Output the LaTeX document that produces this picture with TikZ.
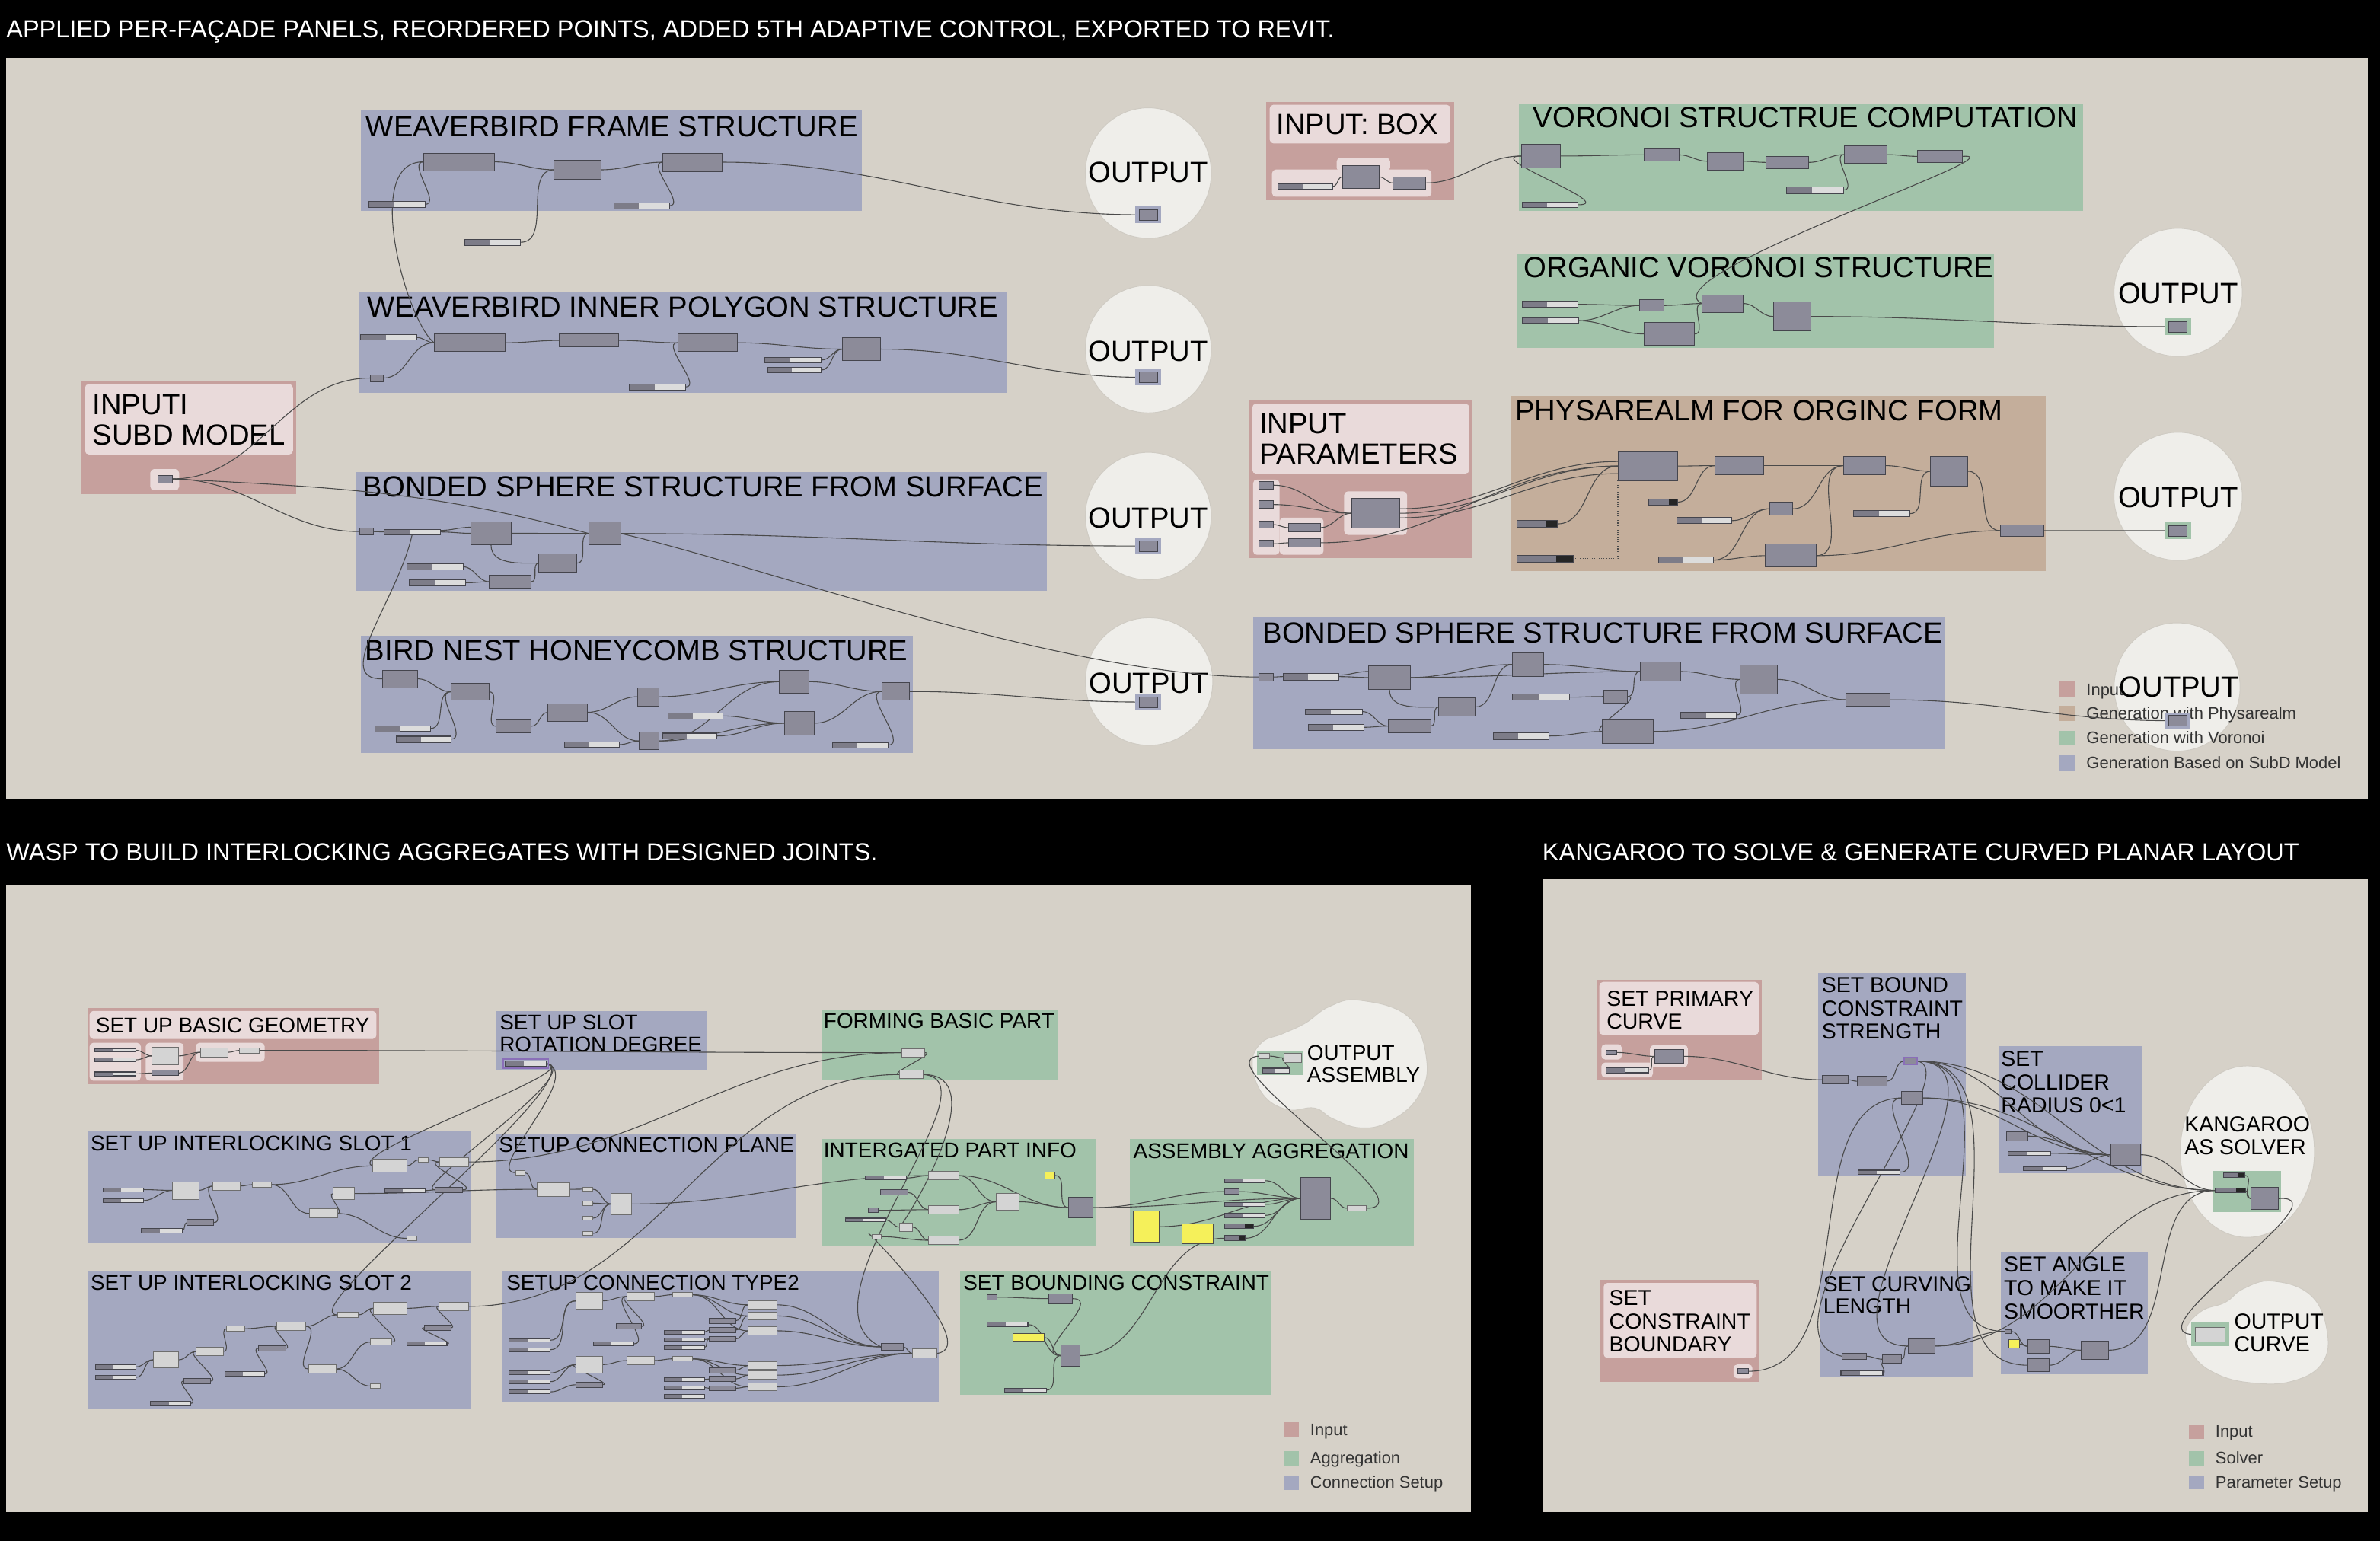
\documentclass[tikz,border=0pt]{standalone}
\usepackage{fontspec}
\setmainfont{Liberation Sans}
\usetikzlibrary{shapes.geometric}
\pgfdeclarelayer{bg}\pgfdeclarelayer{wl}\pgfsetlayers{bg,wl,main}
\definecolor{panelc}{HTML}{D6D1C8}
\definecolor{blueg}{HTML}{A4A8C0}
\definecolor{greeng}{HTML}{A2C3AA}
\definecolor{pinkg}{HTML}{C6A09D}
\definecolor{pinkl}{HTML}{E9DADA}
\definecolor{browng}{HTML}{C4AE9B}
\definecolor{compf}{HTML}{8C8B99}
\definecolor{compb}{HTML}{45454D}
\definecolor{sldd}{HTML}{7D7C88}
\definecolor{sldl}{HTML}{DCDCDC}
\definecolor{lcompf}{HTML}{D4D4D4}
\definecolor{lcompb}{HTML}{6E6E6E}
\definecolor{yel}{HTML}{F5F05A}
\definecolor{outf}{HTML}{EFEEEA}
\definecolor{outb}{HTML}{CFCBC3}
\definecolor{wirec}{HTML}{4A4A4A}
\definecolor{purp}{HTML}{8A6FB8}
\newcommand\myfs[1]{\fontsize{#1}{#1}\selectfont}
\tikzset{
 comp/.style={rectangle,draw=compb,fill=compf,line width=0.45pt,inner sep=0pt,outer sep=0pt},
 lcomp/.style={comp,draw=lcompb,fill=lcompf},
 ycomp/.style={comp,draw=black!70,fill=yel},
 pcomp/.style={comp,draw=purp,line width=0.8pt},
 sldbox/.style={comp,fill=sldl},
 grpst/.style={rectangle,inner sep=0pt,outer sep=0pt,draw=none},
 outel/.style={ellipse,fill=outf,draw=outb,line width=0.5pt,inner sep=0pt},
 wire/.style={draw=wirec,line width=0.55pt},
}
\newcommand\cmp[6][comp]{\node[#1,minimum width={(#5-#3)*1pt},minimum height={(#6-#4)*1pt}] (#2) at ({(#3+#5)/2},{(#4+#6)/2}) {};}
\newcommand\sld[5]{\node[sldbox,minimum width={(#4-#2)*1pt},minimum height={(#5-#3)*1pt}] (#1) at ({(#2+#4)/2},{(#3+#5)/2}) {};
 \fill[sldd] (#2,#3) rectangle ({#2+0.45*(#4-#2)},#5);
 \draw[draw=compb,line width=0.4pt] (#2,#3) rectangle (#4,#5);}
\newcommand\sldk[5]{\node[comp,fill=sldd,minimum width={(#4-#2)*1pt},minimum height={(#5-#3)*1pt}] (#1) at ({(#2+#4)/2},{(#3+#5)/2}) {};
 \fill[black!85] ({#4-0.3*(#4-#2)},#3) rectangle (#4,#5);
 \draw[draw=compb,line width=0.4pt] (#2,#3) rectangle (#4,#5);}
\newcommand\grp[6]{\node[grpst,fill=#6,minimum width={(#4-#2)*1pt},minimum height={(#5-#3)*1pt}] (#1) at ({(#2+#4)/2},{(#3+#5)/2}) {};}
\newcommand\lite[5][pinkl]{\fill[#1,rounded corners=2.5pt] (#2,#3) rectangle (#4,#5);}
\newcommand\ttl[5][19.2]{\node[anchor=base west,inner sep=0pt,font=\myfs{#1}] (#2) at (#3,#4) {#5};}
\newcommand\obox[4]{\node[rectangle,fill=#4,minimum width=17pt,minimum height=11pt,inner sep=0pt] (#1h) at (#2,#3) {};\node[comp,minimum width=12pt,minimum height=7pt] (#1) at (#2,#3) {};}
\newcommand\leg[6]{\fill[#5] (#2,#3) rectangle ({#2+10},#4);
 \node[anchor=base west,inner sep=0pt,font=\myfs{11},text=black!80] (#1) at ({#2+17.4},{#4-1}) {#6};}
\newcommand\wrr[3][]{\draw[wire,#1] (#2.east) to[out=0,in=180] (#3.west);}
\begin{document}
\begin{tikzpicture}[x=1pt,y=-1pt]
\useasboundingbox (0,0) rectangle (1568,1015);
\begin{pgfonlayer}{bg}
\fill[black] (0,0) rectangle (1568,1015);
\node[anchor=base west,inner sep=0pt,text=white,font=\myfs{16.3}] (h1) at (4,25) {APPLIED PER-FAÇADE PANELS, REORDERED POINTS, ADDED 5TH ADAPTIVE CONTROL, EXPORTED TO REVIT.};
\node[anchor=base west,inner sep=0pt,text=white,font=\myfs{16.3}] (h2) at (4,567) {WASP TO BUILD INTERLOCKING AGGREGATES WITH DESIGNED JOINTS.};
\node[anchor=base west,inner sep=0pt,text=white,font=\myfs{16.3}] (h3) at (1016,567) {KANGAROO TO SOLVE \& GENERATE CURVED PLANAR LAYOUT};
\fill[panelc] (4,38) rectangle (1560,526);
\fill[panelc] (4,583) rectangle (969,996);
\fill[panelc] (1016,579) rectangle (1560,996);
% ---------- top panel groups
\grp{gA}{238}{72}{568}{139}{blueg}
\grp{gB}{236}{192}{663}{259}{blueg}
\grp{gC}{234}{311}{689.6}{389}{blueg}
\grp{gD}{238}{419}{601.4}{496}{blueg}
\grp{gIn}{53.4}{250.6}{195}{325.6}{pinkg}
\lite{56}{253}{193}{299.4}
\lite{99}{309}{118}{323}
\grp{gIB}{834}{67}{958}{132}{pinkg}
\lite{836.5}{69}{955.5}{94.5}
\lite{838}{111.7}{943}{129.6}
\lite{880.6}{103.9}{915.8}{113}
\grp{gV}{1000.6}{68}{1372.6}{138.8}{greeng}
\grp{gO}{999.6}{167}{1313.8}{229}{greeng}
\grp{gIP}{822.4}{264}{969.9}{367.6}{pinkg}
\lite{825}{266}{968}{312}
\lite{825.5}{316}{843}{365.5}
\lite{843}{341}{872}{365.5}
\lite{885.5}{323.7}{927}{352.4}
\grp{gP}{995.8}{260.6}{1348}{376}{browng}
\grp{gC2}{825.8}{406.7}{1281.6}{493.5}{blueg}
\node[outel,minimum width=83pt,minimum height=86pt] (O1) at (756.5,114) {};
\node[outel,minimum width=83pt,minimum height=84pt] (O2) at (756.5,230) {};
\node[outel,minimum width=83pt,minimum height=84pt] (O3) at (756.5,340) {};
\node[outel,minimum width=84pt,minimum height=84pt] (O4) at (757,449) {};
\node[outel,minimum width=84.6pt,minimum height=84.4pt] (O5) at (1435,192.6) {};
\node[outel,minimum width=84.6pt,minimum height=84.4pt] (O6) at (1435,327) {};
\node[outel,minimum width=83pt,minimum height=84.6pt] (O7) at (1434.3,452.6) {};
\ttl{tA}{241}{90}{WEAVERBIRD FRAME STRUCTURE}
\ttl{tB}{242}{209}{WEAVERBIRD INNER POLYGON STRUCTURE}
\ttl{tC}{239}{327.5}{BONDED SPHERE STRUCTURE FROM SURFACE}
\ttl{tD}{240.5}{435}{BIRD NEST HONEYCOMB STRUCTURE}
\ttl{tIn1}{60.8}{273}{INPUTI}
\ttl{tIn2}{60.8}{293}{SUBD MODEL}
\ttl{tIB}{840.7}{88.7}{INPUT: BOX}
\ttl{tV}{1010}{84}{VORONOI STRUCTRUE COMPUTATION}
\ttl{tO}{1003.8}{183}{ORGANIC VORONOI STRUCTURE}
\ttl{tP}{998.2}{277}{PHYSAREALM FOR ORGINC FORM}
\ttl{tIP1}{829.5}{285.7}{INPUT}
\ttl{tIP2}{829.5}{305.8}{PARAMETERS}
\ttl{tC2}{831.7}{423.5}{BONDED SPHERE STRUCTURE FROM SURFACE}
\leg{lg1}{1357}{449}{459}{pinkg}{Input}
\leg{lg2}{1357}{465}{475}{browng}{Generation with Physarealm}
\leg{lg3}{1357}{481.4}{491}{greeng}{Generation with Voronoi}
\leg{lg4}{1357}{497.6}{507.4}{blueg}{Generation Based on SubD Model}
\node[anchor=base,inner sep=0pt,font=\myfs{19.2}] (O1t) at (756.5,120) {OUTPUT};
\node[anchor=base,inner sep=0pt,font=\myfs{19.2}] (O2t) at (756.5,238.2) {OUTPUT};
\node[anchor=base,inner sep=0pt,font=\myfs{19.2}] (O3t) at (756.5,348) {OUTPUT};
\node[anchor=base,inner sep=0pt,font=\myfs{19.2}] (O4t) at (757,456.5) {OUTPUT};
\node[anchor=base,inner sep=0pt,font=\myfs{19.2}] (O5t) at (1435,200.1) {OUTPUT};
\node[anchor=base,inner sep=0pt,font=\myfs{19.2}] (O6t) at (1435,334.5) {OUTPUT};
\node[anchor=base,inner sep=0pt,font=\myfs{19.2}] (O7t) at (1435.7,459) {OUTPUT};
% ---------- bottom left groups
\grp{gBG}{57.6}{664}{249.6}{714.4}{pinkg}
\lite{59}{666}{248}{684.5}
\lite{59}{687}{92.8}{712}
\lite{96}{687}{121}{712}
\lite{129}{687}{174.4}{699.5}
\grp{gRot}{327}{665.9}{465.6}{704.8}{blueg}
\grp{gS1}{57.6}{745.5}{310.4}{818.8}{blueg}
\grp{gCP}{326.4}{747.4}{524}{815.6}{blueg}
\grp{gS2}{57.6}{837.2}{310.4}{927.8}{blueg}
\grp{gT2}{331.2}{837.2}{618.5}{923.4}{blueg}
\grp{gF}{541}{665}{696.8}{712}{greeng}
\grp{gI}{541}{750.3}{721.8}{821.3}{greeng}
\grp{gAA}{744.5}{750.3}{931.4}{820.7}{greeng}
\grp{gBC}{632.7}{837.3}{837.8}{918.8}{greeng}
\draw[fill=outf,draw=outb,line width=0.5pt] plot[smooth cycle,tension=0.7] coordinates {(896,659) (928,670) (940,699) (934,723) (915,739) (896,743) (878,737) (866,730) (848,731) (832,721) (825,701) (831,687) (845,681) (860,674) (876,663)};
\fill[greeng] (828,692.8) rectangle (858.5,708.1);
\ttl[14]{tBG}{63}{680.3}{SET UP BASIC GEOMETRY}
\ttl[14]{tR1}{329}{678.4}{SET UP SLOT}
\ttl[14]{tR2}{329}{692.8}{ROTATION DEGREE}
\ttl[14]{tS1}{59.5}{758}{SET UP INTERLOCKING SLOT 1}
\ttl[14]{tCP}{328.5}{759}{SETUP CONNECTION PLANE}
\ttl[14]{tS2}{59.5}{850.1}{SET UP INTERLOCKING SLOT 2}
\ttl[14]{tT2}{333.5}{850}{SETUP CONNECTION TYPE2}
\ttl[14]{tF}{542.5}{677.4}{FORMING BASIC PART}
\ttl[14]{tI}{542.5}{762.8}{INTERGATED PART INFO}
\ttl[14]{tAA}{746.5}{763}{ASSEMBLY AGGREGATION}
\ttl[14]{tBC}{634.5}{850.1}{SET BOUNDING CONSTRAINT}
\ttl[14]{tOA1}{861}{698.5}{OUTPUT}
\ttl[14]{tOA2}{861}{712.9}{ASSEMBLY}
\leg{lb1}{845.6}{937}{946.5}{pinkg}{Input}
\leg{lb2}{845.6}{955.9}{965.4}{greeng}{Aggregation}
\leg{lb3}{845.6}{972.1}{981.6}{blueg}{Connection Setup}
% ---------- bottom right groups
\grp{gPC}{1051.9}{645.6}{1160.5}{711.7}{pinkg}
\lite{1053.7}{646.9}{1158.7}{681.8}
\lite{1055}{688}{1068.5}{698}
\lite{1055}{700}{1089}{709.8}
\lite{1087}{688.5}{1112}{703}
\grp{gCB}{1054.4}{843.2}{1159}{910.6}{pinkg}
\lite{1056.5}{845.2}{1157.3}{894.6}
\lite{1142.1}{898.9}{1154.5}{908.1}
\grp{gBS}{1198}{641.1}{1294.9}{774.8}{blueg}
\grp{gCR}{1316.5}{689.3}{1411.6}{772.8}{blueg}
\grp{gCL}{1199.4}{837.7}{1299.5}{907.6}{blueg}
\grp{gAS}{1318.2}{825.3}{1415.2}{905.6}{blueg}
\node[outel,minimum width=88.4pt,minimum height=113pt] (KS) at (1480.6,758.7) {};
\fill[greeng] (1457.6,771.6) rectangle (1503,798.3);
\draw[fill=outf,draw=outb,line width=0.5pt] plot[smooth cycle,tension=0.7] coordinates {(1497,844) (1522,853) (1533,876) (1530,898) (1510,910) (1483,911) (1460,905) (1445,893) (1440,877) (1450,864) (1466,858) (1478,849)};
\ttl[14.3]{tPC1}{1058.3}{663.1}{SET PRIMARY}
\ttl[14.3]{tPC2}{1058.3}{678}{CURVE}
\ttl[14.3]{tCB1}{1060}{860.2}{SET}
\ttl[14.3]{tCB2}{1060}{875.7}{CONSTRAINT}
\ttl[14.3]{tCB3}{1060}{890.6}{BOUNDARY}
\ttl[14.3]{tBS1}{1200}{653.8}{SET BOUND}
\ttl[14.3]{tBS2}{1200}{669.3}{CONSTRAINT}
\ttl[14.3]{tBS3}{1200}{684.3}{STRENGTH}
\ttl[14.3]{tCR1}{1318.2}{702.5}{SET}
\ttl[14.3]{tCR2}{1318.2}{718}{COLLIDER}
\ttl[14.3]{tCR3}{1318.2}{733}{RADIUS 0<1}
\ttl[14.3]{tCL1}{1201}{851}{SET CURVING}
\ttl[14.3]{tCL2}{1201}{865.7}{LENGTH}
\ttl[14.3]{tAS1}{1320}{837.7}{SET ANGLE}
\ttl[14.3]{tAS2}{1320}{853.4}{TO MAKE IT}
\ttl[14.3]{tAS3}{1320}{868.9}{SMOORTHER}
\ttl[14.3]{tK1}{1439}{745.4}{KANGAROO}
\ttl[14.3]{tK2}{1439}{760.9}{AS SOLVER}
\ttl[14.3]{tOC1}{1471.8}{875.7}{OUTPUT}
\ttl[14.3]{tOC2}{1471.8}{890.6}{CURVE}
\leg{lr1}{1442}{938.8}{948}{pinkg}{Input}
\leg{lr2}{1442}{956.2}{965.5}{greeng}{Solver}
\leg{lr3}{1442}{972}{981.2}{blueg}{Parameter Setup}
\end{pgfonlayer}
% ================= components: top
\cmp{A1}{279}{100.8}{326}{112.5}
\cmp{A2}{365}{105.8}{396}{117.9}
\cmp{A3}{436.5}{100.8}{475.5}{112.9}
\sld{sA1}{243}{132.6}{280}{136.7}
\sld{sA2}{404.5}{133.5}{441}{137.6}
\sld{sA3}{306}{157.7}{343}{161.5}
\sld{sB1}{237.6}{220.6}{274.4}{224}
\cmp{B1}{286}{220}{333}{231.6}
\cmp{B2}{368.4}{220}{407.7}{228.5}
\cmp{B3}{446.4}{220}{485.8}{231.6}
\sld{sB2}{414.5}{253}{451.6}{256.9}
\cmp{Bs}{244}{246.8}{252.6}{251.3}
\sld{sB3}{504}{235.5}{541}{239}
\sld{sB4}{506}{242}{541}{245.5}
\cmp{B4}{555}{222.5}{580}{237.5}
\cmp{In}{104}{313}{113.5}{318}
\cmp{Cs}{237}{348}{246}{352.4}
\sld{sC1}{253}{348.6}{290}{352.3}
\cmp{C1}{310}{343.7}{337}{359}
\cmp{C2}{388}{343.9}{409}{359.1}
\cmp{C3}{355}{365}{380}{377}
\cmp{C4}{322.4}{379}{350}{387.5}
\sld{sC2}{268}{371.5}{305}{375.3}
\sld{sC3}{269.6}{382}{306.7}{385.9}
\cmp{D1}{252}{441.4}{275}{453}
\cmp{D2}{297}{450}{322}{461.4}
\cmp{D3}{327}{474.3}{350}{482.7}
\cmp{D4}{361}{463.5}{387}{475}
\cmp{D5}{420}{453}{434}{465}
\cmp{D6}{421}{482.3}{434}{494}
\cmp{D7}{513.6}{441.4}{533}{456.8}
\cmp{D8}{517}{468.6}{536.5}{484.3}
\cmp{D9}{581}{449.7}{599}{461.4}
\sld{sD1}{247}{478}{283.5}{482}
\sld{sD2}{261}{485}{297}{489}
\sld{sD3}{372}{488.7}{408}{492.4}
\sld{sD4}{440}{469.8}{476}{473.5}
\sld{sD5}{436.6}{483}{472}{486.8}
\sld{sD6}{548.6}{489}{585}{492.7}
\obox{ob1}{756.5}{141.5}{blueg}
\obox{ob2}{756.5}{248.5}{blueg}
\obox{ob3}{756.5}{359.7}{blueg}
\obox{ob4}{756.5}{462.5}{blueg}
\obox{ob5}{1435}{215.2}{greeng}
\obox{ob6}{1435}{349.6}{greeng}
\obox{ob7}{1434.8}{474.8}{blueg}
\sld{sIB}{842}{120.9}{878}{124.7}
\cmp{IB1}{884.5}{109}{908.5}{124}
\cmp{IB2}{917.6}{116.4}{939}{124.7}
\cmp{V1}{1002.2}{94.9}{1028}{110.7}
\cmp{V2}{1083}{98}{1106}{106}
\cmp{V3}{1125}{100.5}{1148.4}{112}
\cmp{V4}{1163.5}{103}{1191.6}{111}
\cmp{V6}{1215}{96}{1243}{107.7}
\cmp{V7}{1263}{99}{1293}{107}
\sld{sV1}{1002.9}{133}{1039.7}{136.8}
\sld{sV2}{1177}{122.9}{1214.8}{127.4}
\sld{sO1}{1002.9}{198.6}{1039.7}{202.4}
\sld{sO2}{1003}{209.5}{1040}{213.1}
\cmp{Ov1}{1080.3}{197.5}{1096.3}{205}
\cmp{Ov2}{1083}{212.5}{1116.5}{227.5}
\cmp{Ov3}{1121.2}{194.1}{1148.5}{205.8}
\cmp{Ov4}{1168.2}{199}{1193}{218}
\cmp{Q1}{829.5}{317.3}{839}{322}
\cmp{Q2}{829.5}{330}{839}{334.8}
\cmp{Q3}{829.5}{343.4}{839}{347.9}
\cmp{Q4}{829.5}{356}{839}{360.6}
\cmp{QR1}{848.7}{345}{869.8}{350.2}
\cmp{QR2}{848.7}{355}{869.8}{360.2}
\cmp{QB}{890.4}{328.4}{922.3}{347.9}
\cmp{P1}{1065.9}{297.5}{1105.3}{316.6}
\cmp{P2}{1129.9}{300.9}{1162.1}{312.6}
\cmp{P3}{1165.8}{331}{1181}{339.4}
\cmp{P4}{1163}{358.6}{1196.4}{373.6}
\cmp{P5}{1214.8}{300.9}{1242}{312.6}
\cmp{P6}{1271.9}{300.9}{1296.2}{320}
\cmp{P7}{1317.8}{345.7}{1346.4}{353.5}
\sldk{sP1}{1086}{328.9}{1105.2}{332.7}
\sldk{sP2}{999.6}{342.9}{1026}{347.4}
\sld{sP3}{1104.6}{341}{1141}{345}
\sldk{sP4}{999.6}{365.8}{1036.4}{370.3}
\sld{sP5}{1092.5}{367}{1128.7}{371}
\sld{sP6}{1220.9}{336.3}{1258.4}{340.5}
\cmp{E0}{829.2}{443.5}{839}{448.5}
\sld{sE0}{845.3}{443.5}{882}{448}
\cmp{E1}{901.5}{438.5}{929.3}{454.2}
\cmp{E2}{996.6}{430}{1017.1}{445.5}
\cmp{E3}{947.8}{459.7}{971.7}{471.9}
\cmp{E4}{914.6}{474}{942.5}{482.7}
\sld{sE1}{860}{467}{897.6}{470.6}
\sld{sE2}{862}{477.3}{898.5}{481}
\sld{sE3}{996.6}{457.2}{1034.2}{461.4}
\cmp{E5}{1056.6}{454.7}{1072.3}{463}
\cmp{E6}{1080.6}{436.3}{1107.4}{448.5}
\cmp{E7}{1146.4}{438}{1170.8}{457.2}
\sld{sE4}{984}{482.8}{1020.5}{487}
\cmp{E8}{1055.7}{474}{1089.3}{489.8}
\sld{sE5}{1107.4}{469}{1144}{473.1}
\cmp{E9}{1216.2}{456.7}{1245}{465.3}
% ================= components: bottom left
\sld{g1}{62.4}{690.8}{89.6}{693.1}
\sld{g2}{62.4}{697}{89.6}{699.5}
\sld{g3}{62.4}{706.2}{89.6}{708.7}
\cmp[lcomp]{Lg1}{100}{689.9}{117.4}{701.4}
\cmp{Dg1}{100}{705.2}{117.4}{708.7}
\cmp[lcomp]{Lg2}{132}{690.3}{150.4}{696.2}
\cmp[lcomp]{Lg3}{157.8}{690.3}{170.6}{693.7}
\draw[purp,line width=0.8pt] (331.5,697.7) rectangle (361.3,703.7);
\sld{sR}{332.8}{699}{360}{702.4}
\sld{s1a}{67.8}{782.5}{94.4}{785}
\sld{s1b}{67.8}{789.7}{94.4}{792.2}
\cmp[lcomp]{S1L1}{113.6}{778.5}{131.2}{790}
\cmp[lcomp]{S1L2}{140}{778.5}{158}{784.3}
\cmp[lcomp]{S1L3}{166.4}{778.5}{178.6}{782.4}
\cmp{S1D1}{123.2}{803.5}{140.8}{807.3}
\sld{s1c}{93}{809.2}{120}{812.1}
\cmp[lcomp]{S1L4}{245.4}{763.8}{268.2}{772.4}
\cmp[lcomp]{S1L5}{275.8}{762.4}{282.2}{765.7}
\cmp[lcomp]{S1L6}{289.6}{762.4}{308.8}{768.6}
\cmp[lcomp]{S1L7}{219.5}{782.4}{233.6}{790.2}
\sld{s1d}{253.4}{783}{280.3}{785.8}
\cmp{S1D2}{286.7}{782}{304.6}{785.8}
\cmp[lcomp]{S1L8}{203.8}{796.4}{222.4}{802.5}
\cmp[lcomp]{S1L9}{268.2}{814.2}{274.6}{817.5}
\cmp[lcomp]{CP0}{339.8}{771}{345.6}{774.3}
\cmp[lcomp]{CP1}{353.6}{779}{375.4}{788.1}
\cmp[lcomp]{CPa}{384}{782}{390.4}{784.9}
\cmp[lcomp]{CPb}{384}{791.2}{390.4}{794.1}
\cmp[lcomp]{CPc}{384}{801.2}{390.4}{804}
\cmp[lcomp]{CPd}{384}{811.2}{390.4}{814}
\cmp[lcomp]{CP2}{402.6}{786.2}{416}{800.2}
\sld{s2a}{63}{899}{89.6}{902}
\sld{s2b}{63}{906.2}{89.6}{908.7}
\cmp[lcomp]{S2L1}{100.8}{890.4}{117.8}{901.3}
\cmp[lcomp]{S2L2}{129}{887.5}{147.2}{893.3}
\cmp{S2D1}{121}{908.3}{138.6}{911.5}
\sld{s2c}{99.2}{923}{125.8}{926}
\cmp[lcomp]{S2L3}{149.4}{873.7}{161}{877}
\cmp[lcomp]{S2L4}{182.4}{871.2}{201.6}{876.4}
\cmp{S2D2}{170.2}{886.6}{188.2}{890}
\sld{s2d}{148.2}{903.8}{174.4}{906.7}
\cmp[lcomp]{S2L5}{222.4}{864.5}{236.2}{868}
\cmp[lcomp]{S2L6}{245.8}{857.8}{268.2}{866}
\cmp[lcomp]{S2L7}{289}{857.8}{308.8}{863.5}
\cmp{S2D3}{279.4}{873.1}{297}{876.4}
\sld{s2e}{268.2}{884.1}{294.4}{886.6}
\cmp[lcomp]{S2L8}{244.2}{882.2}{258.2}{886}
\cmp[lcomp]{S2L9}{203.2}{899}{221.4}{904.8}
\cmp[lcomp]{S2L10}{244.2}{911.5}{250.6}{914.8}
\cmp[lcomp]{T2a}{379.2}{851.5}{396.8}{862.6}
\cmp[lcomp]{T2b}{412.8}{851.5}{431}{856.8}
\cmp[lcomp]{T2c}{443.2}{851.5}{456}{854.5}
\sld{t2s1}{335.4}{881.8}{362.6}{884.1}
\sld{t2s2}{335.4}{888}{362.6}{890.4}
\sld{t2s3}{391}{884.1}{417.6}{886.6}
\cmp{T2d1}{405.8}{872.2}{422.4}{875.6}
\sld{t2s4}{437.8}{876.4}{464}{878.9}
\sld{t2s5}{437.8}{881.4}{464}{883.7}
\sld{t2s6}{437.8}{886.6}{464}{889.1}
\cmp{T2d2}{467.2}{868.3}{484.8}{871.8}
\cmp{T2d3}{467.2}{874.5}{484.8}{878}
\cmp{T2d4}{467.2}{880.4}{484.8}{883.7}
\cmp[lcomp]{T2e1}{492.8}{857}{512}{862.3}
\cmp[lcomp]{T2e2}{492.8}{864.5}{512}{869.4}
\cmp[lcomp]{T2e3}{492.8}{874}{512}{879.5}
\cmp[lcomp]{T2f}{379.2}{893.7}{396.8}{904.4}
\cmp[lcomp]{T2g}{412.8}{893.7}{431}{899}
\cmp[lcomp]{T2h}{443.2}{893.7}{456}{896.7}
\sld{t2s7}{335.4}{903.3}{362.6}{905.8}
\sld{t2s8}{335.4}{909}{362.6}{911.5}
\sld{t2s9}{335.4}{915.8}{362.6}{918.2}
\cmp{T2d5}{379.2}{910.6}{396.8}{914}
\sld{t2s10}{437.8}{907.7}{464}{910}
\sld{t2s11}{437.8}{912.9}{464}{915.4}
\sld{t2s12}{437.8}{918.6}{464}{921.1}
\cmp{T2d6}{467.2}{901}{484.8}{904.4}
\cmp{T2d7}{467.2}{906.7}{484.8}{910.2}
\cmp{T2d8}{467.2}{912.9}{484.8}{916.3}
\cmp[lcomp]{T2e4}{492.8}{897}{512}{902.3}
\cmp[lcomp]{T2e5}{492.8}{903.3}{512}{908.6}
\cmp[lcomp]{T2e6}{492.8}{911}{512}{916.3}
\cmp{T2D}{580.5}{885.2}{595}{889.4}
\cmp[lcomp]{T2L}{601.1}{888.5}{617}{894.8}
\cmp[lcomp]{F1}{594.2}{690.8}{609.3}{696.2}
\cmp[lcomp]{F2}{592.6}{705.2}{608.4}{710.6}
\sld{Is1}{569.9}{774.7}{597.2}{777.4}
\cmp{Id1}{579.9}{783.9}{598.1}{787.4}
\cmp[lcomp]{IL1}{611.8}{771.8}{631.5}{777.2}
\cmp{Id2}{572}{795.8}{578.4}{798.9}
\sld{Is2}{556.8}{802.5}{583.5}{805}
\cmp[lcomp]{IL2}{611.8}{794.1}{631.5}{799.8}
\cmp[lcomp]{ILs1}{592.6}{805.6}{601.1}{811.3}
\cmp[lcomp]{ILs2}{574.4}{813.3}{580.5}{816.1}
\cmp[lcomp]{IL3}{611.8}{814.2}{631.5}{820}
\cmp[lcomp]{IL4}{656.4}{786.2}{671.6}{797.3}
\cmp{ID}{704.1}{788.7}{720.2}{802.5}
\cmp[ycomp]{Iy}{688.3}{772}{695}{776.8}
\cmp[ycomp]{Ay1}{746.7}{797.9}{763.7}{818.4}
\cmp[ycomp]{Ay2}{778.6}{806.4}{799.2}{819.4}
\sld{As1}{806.8}{776.6}{833.5}{779.1}
\cmp{Ad}{806.8}{783.3}{816.5}{786.8}
\sld{As2}{806.8}{792.2}{833.5}{794.8}
\sld{As3}{806.8}{799.3}{833.5}{802.1}
\sldk{Ak1}{806.8}{806.4}{826}{809.4}
\sldk{Ak2}{806.8}{814}{820.5}{817.5}
\cmp{AD}{857}{775.8}{876.7}{803.1}
\cmp[lcomp]{AL}{887.3}{794.1}{900.1}{797.9}
\cmp{Bsm}{650.4}{853}{657}{856.2}
\cmp{BD1}{690.8}{852.4}{706.6}{858.7}
\sld{Bs1}{650.4}{871.2}{677.1}{874.1}
\cmp[ycomp]{By}{667.1}{878.5}{687.7}{883.7}
\cmp{BD2}{699}{886.2}{711.7}{900}
\sld{Bs2}{661.9}{914.4}{689.3}{917.3}
\cmp[lcomp]{OAs}{829.6}{694}{836.6}{697.5}
\cmp[lcomp]{OAL}{845.7}{694}{857.6}{699.9}
\sld{OAsl}{832}{703.7}{849.3}{707.1}
% ================= components: bottom right
\cmp{PCs}{1058.3}{691.8}{1065.3}{695}
\cmp{PCD}{1090}{691.3}{1109.2}{700.5}
\sld{PCsl}{1058.3}{703.5}{1086.2}{706.7}
\cmp{CBs}{1145}{901.8}{1152}{905.1}
\cmp{BS1}{1200.5}{708.5}{1217.4}{714.2}
\cmp{BS2}{1223.5}{709.2}{1243}{715.5}
\cmp[pcomp]{BSp}{1254.6}{696.8}{1263}{701.3}
\cmp{BS3}{1252.5}{719.2}{1266.6}{727.5}
\sld{BSsl}{1224.2}{770.9}{1251.8}{773.6}
\cmp{CR1}{1321.8}{745.4}{1335.9}{751.6}
\sld{CRs1}{1322.8}{758.6}{1350.8}{761.1}
\sld{CRs2}{1333}{768.6}{1361.4}{771.1}
\cmp{CRD}{1390.8}{753.6}{1410.2}{767.9}
\cmp{CL1}{1213.5}{891.4}{1229.5}{895.6}
\cmp{CL2}{1240}{892.6}{1252.5}{898.3}
\cmp{CL3}{1257}{882.1}{1274.7}{891.4}
\sld{CLsl}{1212.8}{903.1}{1240.4}{906.3}
\cmp{ASs}{1320.7}{875.9}{1325}{878.4}
\cmp[ycomp]{ASy}{1323.6}{882.6}{1330.3}{888.1}
\cmp{AS1}{1335.9}{882.6}{1350.1}{891.4}
\cmp{AS2}{1335.9}{895.1}{1350.1}{903.8}
\cmp{AS3}{1371.3}{883.4}{1389}{895.6}
\sldk{Ks1}{1465}{772.8}{1479}{775.8}
\sldk{Ks2}{1459.4}{782.8}{1479.2}{785.8}
\cmp{KD}{1482.7}{782.3}{1501}{797}
\fill[greeng] (1443.5,871.5) rectangle (1468.6,886.8);
\cmp[lcomp]{OCL}{1446.3}{874.4}{1465.8}{883.9}
% ================= wires
\begin{pgfonlayer}{wl}
\wrr{sA1}{A1}
\draw[wire] (A1.west) .. controls (238,106) and (268,212) .. (B1.west);
\wrr{A1}{A2}\wrr{A2}{A3}\wrr{sA3}{A2}\wrr{sA2}{A3}\wrr{A3}{ob1}
\wrr{sB1}{B1}\wrr{Bs}{B1}\wrr{B1}{B2}\wrr{B2}{B3}\wrr{sB2}{B3}\wrr{B3}{B4}\wrr{sB3}{B4}\wrr{sB4}{B4}\wrr{B4}{ob2}
\wrr{In}{Bs}\wrr{In}{Cs}
\draw[wire] (In.east) to[out=-3,in=165] (C2.west);
\wrr{Cs}{sC1}\wrr{sC1}{C1}
\draw[wire] ([yshift=1pt]sC1.east) to[out=0,in=180] ([yshift=4pt]C1.west);
\wrr{C1}{C2}
\draw[wire] (C1.south) to[out=-90,in=180] (C3.west);
\wrr{C3}{C2}\wrr{C4}{C3}\wrr{sC2}{C4}\wrr{sC3}{C4}\wrr{C2}{ob3}
\draw[wire] (C2.east) .. controls (500,372) and (700,446) .. (E0.west);
\draw[wire] (sC1.south) .. controls (262,395) and (218,448) .. (D1.west);
\wrr{D1}{D2}\wrr{sD1}{D2}\wrr{sD2}{D2}\wrr{D2}{D3}\wrr{D3}{D4}\wrr{D4}{D5}\wrr{D4}{D6}\wrr{sD3}{D6}
\wrr{D5}{D7}\wrr{D6}{D7}\wrr{sD4}{D8}\wrr{sD5}{D8}\wrr{D6}{D8}\wrr{D7}{D9}\wrr{D8}{D9}\wrr{sD6}{D9}\wrr{D9}{ob4}
\wrr{sIB}{IB1}\wrr{IB1}{IB2}\wrr{IB2}{V1}
\wrr{V1}{V2}\wrr{V2}{V3}\wrr{V3}{V4}\wrr{V4}{V6}\wrr{sV2}{V6}\wrr{V6}{V7}
\wrr[looseness=1.4]{sV1}{V1}
\draw[wire] (V7.east) .. controls (1335,100) and (1085,182) .. (Ov3.west);
\wrr{sO1}{Ov1}\wrr{sO2}{Ov1}\wrr{sO2}{Ov2}\wrr{Ov1}{Ov3}\wrr{Ov2}{Ov3}\wrr{Ov3}{Ov4}\wrr{Ov4}{ob5}
\wrr{Q1}{QB}\wrr{Q2}{QB}\wrr{Q3}{QR1}\wrr{Q4}{QR2}\wrr{QR1}{QB}\wrr{QB}{P1}
\draw[wire] ([yshift=-3pt]QB.east) to[out=0,in=180] ([yshift=-5pt]P1.west);
\draw[wire] ([yshift=3pt]QB.east) to[out=0,in=180] ([yshift=3pt]P1.west);
\wrr{QR2}{P1}
\wrr{P1}{P2}\wrr{P2}{P5}\wrr{P5}{P6}\wrr{sP2}{P1}\wrr{sP1}{P2}\wrr{sP3}{P3}\wrr{sP5}{P3}\wrr{sP5}{P4}
\wrr{P3}{P5}\wrr{P4}{P5}\wrr{P4}{P7}\wrr{P6}{P7}\wrr{sP6}{P6}\wrr{P7}{ob6}
\draw[wire,densely dotted] (sP4.east) -| (P1.south west);
\wrr{E0}{sE0}\wrr{sE0}{E1}
\draw[wire] ([yshift=1pt]sE0.east) to[out=0,in=180] ([yshift=4pt]E1.west);
\wrr{E1}{E2}\wrr{E1}{E6}
\draw[wire] (E1.south) to[out=-90,in=180] (E3.west);
\wrr{sE1}{E4}\wrr{sE2}{E4}\wrr{E4}{E3}\wrr{E3}{E2}\wrr{sE3}{E5}\wrr{E5}{E6}\wrr{E2}{E6}\wrr{E6}{E7}\wrr{sE5}{E7}
\wrr{E7}{E9}\wrr{sE4}{E8}\wrr{E5}{E8}\wrr{E8}{E9}\wrr{E9}{ob7}
% bottom left
\wrr{g1}{Lg1}\wrr{g2}{Lg1}\wrr{g3}{Dg1}\wrr{Lg1}{Lg2}\wrr{Dg1}{Lg2}\wrr{Lg2}{Lg3}\wrr{Lg3}{F1}
\draw[wire] (sR.east) .. controls (390,704) and (225,760) .. (S1L4.west);
\draw[wire] (sR.east) .. controls (388,706) and (268,784) .. (S1D2.west);
\draw[wire] (sR.east) .. controls (386,708) and (318,772) .. (CP0.west);
\draw[wire] (sR.east) .. controls (392,710) and (190,866) .. (S2L5.west);
\wrr{s1a}{S1L1}\wrr{s1b}{S1L1}\wrr{S1L1}{S1L2}\wrr{S1L2}{S1L3}\wrr{s1c}{S1D1}\wrr{S1D1}{S1L2}
\wrr{S1L3}{S1L4}\wrr{S1L4}{S1L5}\wrr{S1L5}{S1L6}
\draw[wire] (S1L3.east) to[out=0,in=180] (S1L8.west);
\wrr{S1L8}{S1L7}\wrr{S1L8}{S1L9}\wrr{s1d}{S1D2}\wrr[looseness=1.5]{S1D2}{S1L6}\wrr{S1L7}{CP1}\wrr{S1L6}{F1}
\wrr{CP0}{CP1}\wrr{CP1}{CPa}\wrr{CPa}{CP2}\wrr{CPb}{CP2}\wrr{CPc}{CP2}\wrr{CPd}{CP2}\wrr{CP2}{IL1}
\wrr{s2a}{S2L1}\wrr{s2b}{S2L1}\wrr{S2L1}{S2L2}\wrr{s2c}{S2D1}\wrr{S2D1}{S2L2}\wrr{S2L2}{S2L3}\wrr{S2L3}{S2L4}
\wrr{s2d}{S2D2}\wrr{S2D2}{S2L4}\wrr{S2L4}{S2L9}\wrr{S2L4}{S2L5}\wrr{S2L5}{S2L6}\wrr{S2L9}{S2L8}\wrr{S2L9}{S2L10}
\wrr{S2L8}{S2L6}\wrr{s2e}{S2D3}\wrr{S2D3}{S2L7}\wrr{S2L6}{S2L7}\wrr{S2L7}{F2}
\wrr{t2s1}{T2a}\wrr{t2s2}{T2a}\wrr{T2a}{T2b}\wrr{t2s3}{T2b}\wrr{T2b}{T2c}\wrr{T2c}{T2e1}\wrr{T2c}{T2e2}\wrr{T2c}{T2e3}
\wrr{T2d1}{T2b}\wrr{t2s4}{T2d3}\wrr{t2s5}{T2d4}\wrr{t2s6}{T2d4}\wrr{T2d2}{T2e1}\wrr{T2d3}{T2e2}\wrr{T2d4}{T2e3}
\wrr{t2s7}{T2f}\wrr{t2s8}{T2f}\wrr{t2s9}{T2d5}\wrr{T2d5}{T2f}\wrr{T2f}{T2g}\wrr{T2g}{T2h}
\wrr{T2h}{T2e4}\wrr{T2h}{T2e5}\wrr{T2h}{T2e6}\wrr{t2s10}{T2d7}\wrr{t2s11}{T2d8}\wrr{T2d6}{T2e4}\wrr{T2d7}{T2e5}\wrr{T2d8}{T2e6}
\wrr{T2e1}{T2D}\wrr{T2e2}{T2D}\wrr{T2e3}{T2D}\wrr{T2e4}{T2L}\wrr{T2e5}{T2L}\wrr{T2e6}{T2L}\wrr{T2D}{T2L}
\draw[wire] (T2L.east) .. controls (650,888) and (560,800) .. (ILs2.west);
\draw[wire] (F1.east) to[out=0,in=180] (F2.west);
\draw[wire] (F2.east) .. controls (655,708) and (600,800) .. (ILs1.west);
\draw[wire] (F2.east) .. controls (660,712) and (520,860) .. (T2D.west);
\wrr{Is1}{IL1}\wrr{Id1}{IL2}\wrr{Id2}{IL2}\wrr{Is2}{ILs1}\wrr{ILs1}{IL3}\wrr{ILs2}{IL3}
\wrr{IL1}{IL4}\wrr{IL2}{IL4}\wrr{IL3}{IL4}\wrr{IL4}{ID}\wrr{IL1}{ID}\wrr{Iy}{ID}\wrr{ID}{AD}\wrr{ID}{Ad}
\wrr{As1}{AD}\wrr{Ad}{AD}\wrr{As2}{AD}\wrr{As3}{AD}\wrr{Ak1}{AD}\wrr{Ak2}{AD}\wrr{Ay1}{AD}\wrr{AD}{AL}
\draw[wire] (AL.east) .. controls (945,796) and (790,698) .. (OAs.west);
\wrr{OAs}{OAL}\wrr{OAsl}{OAL}
\wrr{Bsm}{BD1}\wrr[looseness=1.4]{BD1}{BD2}\wrr{Bs1}{BD2}\wrr{By}{BD2}\wrr{Bs2}{BD2}\wrr{BD2}{Ak2}
% bottom right
\wrr{PCs}{PCD}\wrr{PCsl}{PCD}\wrr{PCD}{BS1}\wrr{BS1}{BS2}\wrr{BS2}{BSp}
\wrr{BSp}{CRD}\wrr{BSp}{Ks2}\wrr{BSp}{ASs}\wrr{BSp}{AS2}\wrr{BSp}{CL3}
\draw[wire] (BSp.east) .. controls (1300,705) and (1150,880) .. (CL1.west);
\wrr{BSsl}{BS3}\wrr{BS3}{CRD}\wrr{BS3}{Ks2}
\draw[wire] (CBs.east) .. controls (1230,903) and (1180,725) .. (BS3.west);
\wrr{CR1}{CRD}\wrr{CRs1}{CRD}\wrr{CRs2}{CRD}\wrr{CRD}{Ks2}
\wrr{CL1}{CL2}\wrr{CLsl}{CL2}\wrr{CL2}{CL3}\wrr{CL3}{ASs}\wrr{CL3}{Ks2}
\wrr{ASy}{AS1}\wrr{ASs}{AS1}\wrr{AS1}{AS3}\wrr{AS2}{AS3}\wrr{AS3}{Ks2}
\wrr{Ks1}{KD}\wrr{Ks2}{KD}
\draw[wire] (KD.east) .. controls (1548,786) and (1400,880) .. (OCL.west);
\end{pgfonlayer}
\end{tikzpicture}
\end{document}
